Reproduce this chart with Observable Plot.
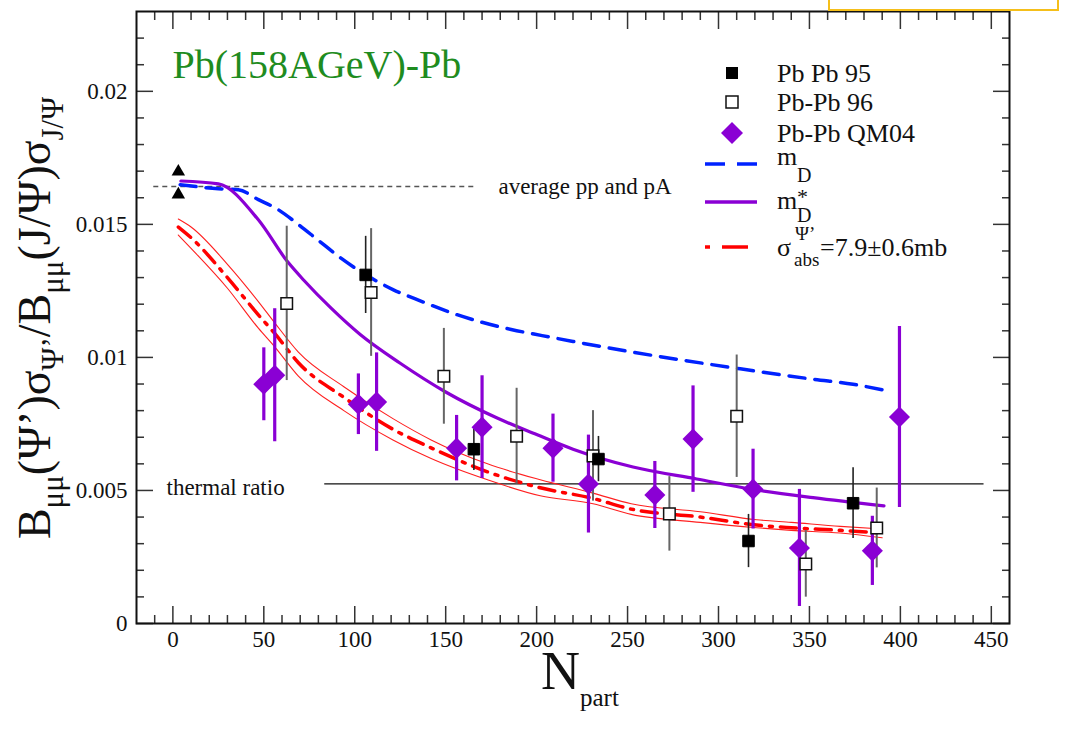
<!DOCTYPE html>
<html><head><meta charset="utf-8">
<script src="https://cdn.jsdelivr.net/npm/d3@7"></script>
<script src="https://cdn.jsdelivr.net/npm/@observablehq/plot@0.6"></script>
<style>
html,body{margin:0;padding:0;background:#fff;}
#chart{position:relative;width:1076px;height:750px;overflow:hidden;}
</style></head><body><div id="chart"></div>
<script>
const SERIF = "'Liberation Serif','Times New Roman',serif";

// ---- data ----
const pb95N = [106, 165.5, 234, 316.5, 374];
const pb95V = [0.0131, 0.00655, 0.00618, 0.0031, 0.00452];
const pb95E = [0.00145, 0.0008, 0.00085, 0.001, 0.00133];

const pb96N = [62.6, 109, 149, 189, 231, 273, 310, 348, 387];
const pb96V = [0.01203, 0.01244, 0.00929, 0.00704, 0.0063, 0.00412, 0.00779, 0.00224, 0.00359];
const pb96E = [0.0029, 0.0024, 0.0018, 0.0018, 0.0017, 0.0014, 0.0023, 0.00125, 0.0015];

const qmN = [50, 56, 102, 112, 156, 170, 209, 228.5, 265, 286, 319, 344.5, 384.6, 399.5];
const qmV = [0.00899, 0.00933, 0.00824, 0.00832, 0.00659, 0.00738, 0.00659, 0.00524, 0.00483, 0.00693, 0.00505, 0.00284, 0.00273, 0.00776];
const qmE = [0.00137, 0.0025, 0.00114, 0.00185, 0.00123, 0.00193, 0.00128, 0.00184, 0.00126, 0.002, 0.0015, 0.0022, 0.0013, 0.0034];

const ppN = [3, 3];
const ppV = [0.01698, 0.01612];

const mdN = [4, 25, 36, 47, 58, 68, 80, 92, 105, 121, 137, 153, 170, 186, 203, 220, 250, 280, 310, 352, 374, 391];
const mdV = [0.01649, 0.01634, 0.0163, 0.01593, 0.01555, 0.01505, 0.0144, 0.01375, 0.01315, 0.01255, 0.0121, 0.01168, 0.01132, 0.01105, 0.01082, 0.0106, 0.01023, 0.0099, 0.00959, 0.00918, 0.00899, 0.00877];

const mdsN = [4.4, 25, 47, 63, 72, 87, 103, 125, 150, 178, 200, 220, 253, 288, 319, 352, 391];
const mdsV = [0.01663, 0.01652, 0.01517, 0.0136, 0.0129, 0.01185, 0.01086, 0.00978, 0.0087, 0.00773, 0.0071, 0.00655, 0.00588, 0.00543, 0.00504, 0.00473, 0.00442];

const absN = [3, 10, 30, 47, 56, 69, 94, 121, 142, 173, 202, 231, 252, 290, 321, 340, 367, 390];
const absV = [0.0149, 0.0145, 0.0130, 0.0116, 0.0109, 0.0098, 0.0085, 0.0073, 0.0066, 0.0057, 0.0051, 0.0047, 0.0043, 0.0040, 0.0037, 0.0036, 0.0035, 0.0034];
const absHi = [0.0152, 0.0149, 0.0135, 0.0121, 0.0113, 0.0102, 0.0089, 0.0077, 0.0069, 0.0060, 0.0054, 0.0049, 0.0045, 0.0042, 0.0039, 0.0038, 0.00365, 0.00355];
const absLo = [0.0146, 0.0141, 0.0126, 0.0111, 0.0104, 0.0093, 0.0080, 0.0069, 0.0062, 0.0054, 0.0048, 0.0045, 0.0041, 0.0038, 0.0036, 0.0035, 0.0034, 0.00322];

const avgLine = {v: 0.01642, n1: -10.5, n2: 166.5, label: "average pp and pA", ln: 179};
const thermLine = {v: 0.00525, n1: 83.5, n2: 446, label: "thermal ratio", ln: -3.5};

const xMajor = [0, 50, 100, 150, 200, 250, 300, 350, 400, 450];
const xMinor = d3.range(-10, 460, 10).filter(d => d % 50 !== 0);
const yMajor = [0, 0.005, 0.01, 0.015, 0.02];
const yMinor = d3.range(1, 23).filter(d => d % 5 !== 0).map(d => d / 1000);

const titleText = "Pb(158AGeV)-Pb";

// ---- tables ----
const toPts = (N, V, E) => N.map((n, i) => ({n, v: V[i], e: E ? E[i] : 0}));
const pb95 = toPts(pb95N, pb95V, pb95E);
const pb96 = toPts(pb96N, pb96V, pb96E);
const qm = toPts(qmN, qmV, qmE);
const pp = toPts(ppN, ppV);
const md = toPts(mdN, mdV);
const mds = toPts(mdsN, mdsV);
const absC = toPts(absN, absV);
const absU = toPts(absN, absHi);
const absL = toPts(absN, absLo);

const PURPLE = "#8a00d4";
const tickStyle = {stroke: "#333", strokeWidth: 1.5, tickFormat: () => "", label: null};

const plot = Plot.plot({
  width: 1076, height: 750,
  marginLeft: 136, marginRight: 67, marginTop: 11, marginBottom: 127,
  x: {domain: [-20, 460]},
  y: {domain: [0, 0.023]},
  style: {fontFamily: SERIF, background: "white", color: "#111", overflow: "visible"},
  marks: [
    Plot.axisX(xMajor, {anchor: "bottom", tickSize: -17, ...tickStyle}),
    Plot.axisX(xMinor, {anchor: "bottom", tickSize: -8, ...tickStyle}),
    Plot.axisX(xMajor, {anchor: "top", tickSize: -17, ...tickStyle}),
    Plot.axisX(xMinor, {anchor: "top", tickSize: -8, ...tickStyle}),
    Plot.axisY(yMajor, {anchor: "left", tickSize: -17, ...tickStyle}),
    Plot.axisY(yMinor, {anchor: "left", tickSize: -8, ...tickStyle}),
    Plot.axisY(yMajor, {anchor: "right", tickSize: -17, ...tickStyle}),
    Plot.axisY(yMinor, {anchor: "right", tickSize: -8, ...tickStyle}),
    Plot.axisX(xMajor, {anchor: "bottom", tickSize: 0, tickPadding: 7, fontSize: 23, label: null, fill: "#111"}),
    Plot.axisY(yMajor, {anchor: "left", tickSize: 0, tickPadding: 9, fontSize: 23, label: null, fill: "#111", tickFormat: d => String(d)}),
    Plot.frame({stroke: "#111", strokeWidth: 2}),
    Plot.ruleY([avgLine], {y: "v", x1: "n1", x2: "n2", stroke: "#555", strokeWidth: 1.5, strokeDasharray: "5,4"}),
    Plot.ruleY([thermLine], {y: "v", x1: "n1", x2: "n2", stroke: "#111", strokeWidth: 1.3}),
    Plot.text([avgLine], {x: "ln", y: "v", text: "label", textAnchor: "start", lineAnchor: "middle", fontSize: 23, fill: "#111"}),
    Plot.text([thermLine], {x: "ln", y: d => d.v - 0.00013, text: "label", textAnchor: "start", lineAnchor: "middle", fontSize: 23, fill: "#111"}),
    Plot.text([titleText], {frameAnchor: "top-left", dx: 36, dy: 54, fontSize: 40, fill: "#1f8c1f", textAnchor: "start", lineAnchor: "middle"}),
    Plot.line(absU, {x: "n", y: "v", stroke: "#ff2020", strokeWidth: 1.1, curve: "monotone-x"}),
    Plot.line(absL, {x: "n", y: "v", stroke: "#ff2020", strokeWidth: 1.1, curve: "monotone-x"}),
    Plot.line(absC, {x: "n", y: "v", stroke: "#ff0000", strokeWidth: 3.5, strokeDasharray: "16,8,3,8", curve: "monotone-x"}),
    Plot.line(md, {x: "n", y: "v", stroke: "#0022ff", strokeWidth: 3.5, strokeDasharray: "16,10", curve: "monotone-x"}),
    Plot.line(mds, {x: "n", y: "v", stroke: PURPLE, strokeWidth: 3.2, curve: "monotone-x"}),
    Plot.ruleX(qm, {x: "n", y1: d => d.v - d.e, y2: d => d.v + d.e, stroke: PURPLE, strokeWidth: 3.2}),
    Plot.ruleX(pb96, {x: "n", y1: d => d.v - d.e, y2: d => d.v + d.e, stroke: "#666", strokeWidth: 2}),
    Plot.ruleX(pb95, {x: "n", y1: d => d.v - d.e, y2: d => d.v + d.e, stroke: "#222", strokeWidth: 1.6}),
    Plot.dot(qm, {x: "n", y: "v", symbol: "diamond2", r: 9.5, fill: PURPLE, stroke: "none"}),
    Plot.dot(pb96, {x: "n", y: "v", symbol: "square", r: 6.5, fill: "white", stroke: "#111", strokeWidth: 1.5}),
    Plot.dot(pb95, {x: "n", y: "v", symbol: "square", r: 6.5, fill: "#000", stroke: "#000", strokeWidth: 1}),
    Plot.dot(pp, {x: "n", y: "v", symbol: "triangle", r: 5, fill: "#000", stroke: "none"})
  ]
});

document.getElementById("chart").appendChild(plot);

const svg = d3.select(plot);

svg.append("rect").attr("x", 829).attr("y", -4).attr("width", 229).attr("height", 14)
  .attr("fill", "white").attr("stroke", "#f5bf1a").attr("stroke-width", 2);

// y axis label
const yl = svg.append("text").attr("transform", "translate(50,318) rotate(-90)")
  .attr("text-anchor", "middle").attr("font-family", SERIF).attr("font-size", 46).attr("fill", "#111");
const ylParts = [["B", 0], ["μμ", 1], ["(Ψ’)σ", 0], ["Ψ’", 1], ["/B", 0], ["μμ", 1], ["(J/Ψ)σ", 0], ["J/Ψ", 1]];
let prevSub = false;
ylParts.forEach(([t, sub]) => {
  const ts = yl.append("tspan").text(t);
  if (sub) { ts.attr("font-size", 31).attr("dy", prevSub ? 0 : 13); }
  else if (prevSub) { ts.attr("dy", -13); }
  prevSub = !!sub;
});

// x axis label
const xl = svg.append("text").attr("x", 541).attr("y", 689).attr("text-anchor", "start")
  .attr("font-family", SERIF).attr("fill", "#111");
xl.append("tspan").attr("font-size", 54).text("N");
xl.append("tspan").attr("font-size", 25).attr("dy", 17).text("part");

// legend
const lg = svg.append("g").attr("font-family", SERIF).attr("font-size", 26).attr("fill", "#111")
  .attr("text-anchor", "start");
lg.append("rect").attr("x", 726).attr("y", 67).attr("width", 12).attr("height", 12).attr("fill", "#000");
lg.append("text").attr("x", 777).attr("y", 73).attr("dy", "0.35em").text("Pb Pb 95");
lg.append("rect").attr("x", 726).attr("y", 96).attr("width", 12).attr("height", 12).attr("fill", "#fff").attr("stroke", "#111").attr("stroke-width", 1.5);
lg.append("text").attr("x", 777).attr("y", 102).attr("dy", "0.35em").text("Pb-Pb 96");
lg.append("path").attr("d", "M732,122L743,133L732,144L721,133Z").attr("fill", PURPLE);
lg.append("text").attr("x", 777).attr("y", 133).attr("dy", "0.35em").text("Pb-Pb QM04");
lg.append("line").attr("x1", 705).attr("x2", 757).attr("y1", 164).attr("y2", 164)
  .attr("stroke", "#0022ff").attr("stroke-width", 3.5).attr("stroke-dasharray", "20,12");
lg.append("text").attr("x", 777).attr("y", 165).text("m");
lg.append("text").attr("x", 797).attr("y", 182).attr("font-size", 20).text("D");
lg.append("line").attr("x1", 705).attr("x2", 757).attr("y1", 202).attr("y2", 202)
  .attr("stroke", PURPLE).attr("stroke-width", 3.5);
lg.append("text").attr("x", 777).attr("y", 209).text("m");
lg.append("text").attr("x", 797).attr("y", 204).attr("font-size", 22).text("*");
lg.append("text").attr("x", 797).attr("y", 222).attr("font-size", 20).text("D");
lg.append("line").attr("x1", 705).attr("x2", 710).attr("y1", 247).attr("y2", 247)
  .attr("stroke", "#ff0000").attr("stroke-width", 3.5);
lg.append("line").attr("x1", 722).attr("x2", 748).attr("y1", 247).attr("y2", 247)
  .attr("stroke", "#ff0000").attr("stroke-width", 3.5);
lg.append("text").attr("x", 777).attr("y", 256).text("σ");
lg.append("text").attr("x", 795).attr("y", 240).attr("font-size", 19).text("Ψ’");
lg.append("text").attr("x", 794).attr("y", 266).attr("font-size", 19).text("abs");
lg.append("text").attr("x", 820).attr("y", 256).text("=7.9±0.6mb");
</script></body></html>
